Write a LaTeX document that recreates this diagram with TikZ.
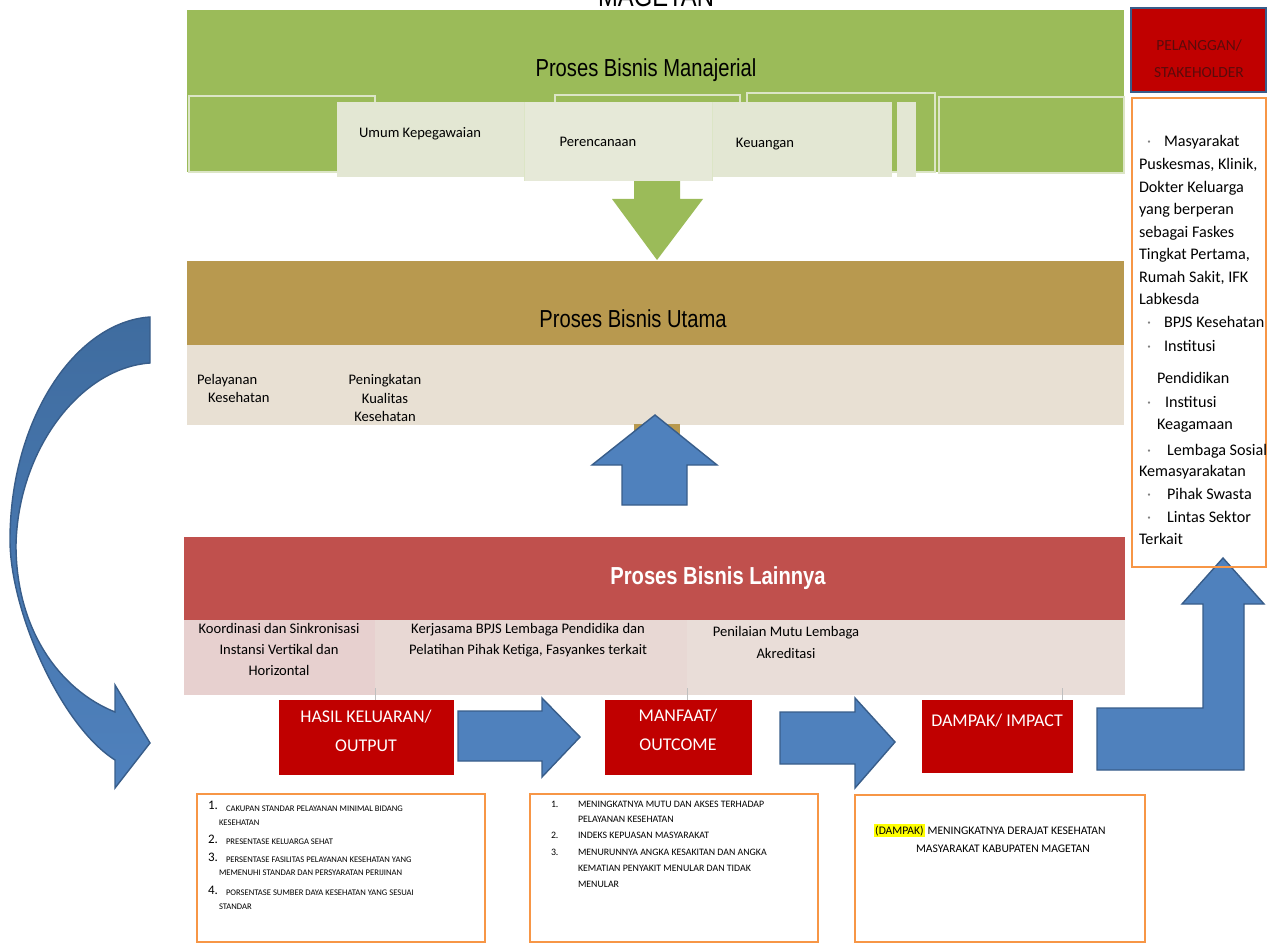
\documentclass[tikz,border=0pt]{standalone}
\usepackage{fontspec}
\setmainfont{Carlito}
\newfontfamily\narrowsf[FakeStretch=0.82]{Liberation Sans}
\definecolor{mgreen}{HTML}{9BBB59}
\definecolor{mgreenedge}{HTML}{DCE5C6}
\definecolor{mgreenlight}{HTML}{E3E7D3}
\definecolor{mgreenlight2}{HTML}{E6E9D8}
\definecolor{ubrown}{HTML}{B8994F}
\definecolor{ubeige}{HTML}{E8E0D3}
\definecolor{lred}{HTML}{C0504D}
\definecolor{lpinkA}{HTML}{E7D0CF}
\definecolor{lpinkB}{HTML}{E8D8D4}
\definecolor{lpinkC}{HTML}{E9DDD8}
\definecolor{dred}{HTML}{C00000}
\definecolor{ablue}{HTML}{4F81BD}
\definecolor{abluedark}{HTML}{3F6C9F}
\definecolor{ablueedge}{HTML}{385D8A}
\definecolor{obox}{HTML}{F79646}
\definecolor{maroontext}{HTML}{5A0B0B}
\definecolor{hilite}{HTML}{FFFF00}
\begin{document}
\begin{tikzpicture}[x=0.2mm,y=-0.2mm,
  every node/.style={inner sep=0pt, outer sep=0pt},
  heading/.style={font=\narrowsf\fontsize{14}{16}\selectfont},
  smalltxt/.style={font=\fontsize{8.3}{12}\selectfont, align=center},
  tabbox/.style={draw=mgreenedge, line width=0.9pt, fill=mgreen},
  resultbox/.style={fill=dred},
  resultlabel/.style={text=white, font=\fontsize{10.2}{16.5}\selectfont, align=center},
  blockarrow/.style={fill=ablue, draw=ablueedge, line width=0.8pt, line join=miter},
  listbox/.style={draw=obox, line width=0.55mm},
  sh/.style={font=\fontsize{9.2}{11}\selectfont, anchor=mid west},
  shdot/.style={font=\fontsize{9}{11}\selectfont, anchor=mid west, text=gray},
  numA/.style={font=\fontsize{7.4}{8}\selectfont, anchor=mid west},
  itemA/.style={font=\fontsize{4.9}{6}\selectfont, anchor=mid west},
  itemB/.style={font=\fontsize{5.6}{7}\selectfont, anchor=mid west},
  itemC/.style={font=\fontsize{6.6}{8}\selectfont, anchor=mid west}
]
\useasboundingbox (0,0) rectangle (1269,944);

% ---------- heading cut at the top edge
\node[font=\narrowsf\fontsize{16.5}{18}\selectfont, anchor=base] (magetan) at (656,7) {MAGETAN};

% ---------- Proses Bisnis Manajerial
\fill[mgreen] (187,10) rectangle (1124,172);
\node[heading] (manajerial) at (646,70) {Proses Bisnis Manajerial};
\draw[tabbox] (189,96) rectangle (375,172);
\draw[tabbox] (555,95) rectangle (740,172);
\draw[tabbox] (747,93) rectangle (935,172);
\draw[tabbox] (939,97) rectangle (1124,173);
% green arrow down to the main process
\fill[mgreen] (634,178) -- (680,178) -- (680,199) -- (703,199) -- (657,260)
   -- (612,199) -- (634,199) -- cycle;
\fill[mgreenlight] (337,102) rectangle (524,177);
\fill[mgreenlight2] (524,102) rectangle (712,181);
\draw[mgreenedge, line width=0.4pt] (524,102) -- (524,181);
\fill[mgreenlight] (712,102) rectangle (892,177);
\draw[mgreenedge, line width=0.4pt] (712,102) -- (712,181);
\fill[mgreenlight] (897,102) rectangle (916,177);
\node[smalltxt] (umum) at (420,134) {Umum Kepegawaian};
\node[smalltxt] (perencanaan) at (598,142) {Perencanaan};
\node[smalltxt] (keuangan) at (765,144) {Keuangan};

% ---------- Proses Bisnis Utama
\fill[ubrown] (187,261) rectangle (1124,345);
\fill[ubeige] (187,345) rectangle (1124,425);
\node[heading] (utama) at (633,319) {Proses Bisnis Utama};
\node[smalltxt, anchor=mid west] (pel1) at (197,380) {Pelayanan};
\node[smalltxt, anchor=mid west] (pel2) at (208,398) {Kesehatan};
\node[font=\fontsize{8.3}{10.3}\selectfont, align=center] (peningkatan) at (385,398)
  {Peningkatan\\Kualitas\\Kesehatan};
\fill[ubrown] (634,424) rectangle (680,434);
% blue arrow up from the other processes
\draw[blockarrow] (655,415) -- (717,465) -- (687,465) -- (687,505) -- (622,505)
   -- (622,465) -- (592,465) -- cycle;

% ---------- Proses Bisnis Lainnya
\fill[lred] (184,537) rectangle (1125,620);
\fill[lpinkB] (184,620) rectangle (1125,695);
\fill[lpinkA] (184,620) rectangle (375,695);
\fill[lpinkC] (687,620) rectangle (1125,695);
\foreach \xx in {375,687,1062}
  \draw[black!25, line width=0.3pt] (\xx,688) -- (\xx,700);
\node[heading, font=\narrowsf\bfseries\fontsize{14}{16}\selectfont, text=white] (lainnya) at (718,578) {Proses Bisnis Lainnya};
\node[smalltxt, anchor=north] (koordinasi) at (279,623)
  {Koordinasi dan Sinkronisasi\\Instansi Vertikal dan\\Horizontal};
\node[smalltxt, anchor=north] (kerjasama) at (528,623)
  {Kerjasama BPJS Lembaga Pendidika dan\\Pelatihan Pihak Ketiga, Fasyankes terkait};
\node[smalltxt, font=\fontsize{8.3}{13}\selectfont, anchor=north] (penilaian) at (786,626)
  {Penilaian Mutu Lembaga\\Akreditasi};

% ---------- results chain
\fill[resultbox] (279,700) rectangle (454,775);
\node[resultlabel] (output) at (366,731) {HASIL KELUARAN/\\OUTPUT};
\fill[resultbox] (605,700) rectangle (752,775);
\node[resultlabel] (outcome) at (678,730) {MANFAAT/\\OUTCOME};
\fill[resultbox] (922,700) rectangle (1073,773);
\node[resultlabel] (impact) at (997,721) {DAMPAK/ IMPACT};

\draw[blockarrow] (458,711) -- (542,711) -- (542,698) -- (580,737) -- (542,777)
   -- (542,761) -- (458,761) -- cycle;
\draw[blockarrow] (780,712) -- (855,712) -- (855,698) -- (895,742) -- (855,788)
   -- (855,764) -- (780,764) -- cycle;
\draw[blockarrow] (1097,708) -- (1203,708) -- (1203,604) -- (1182,604) -- (1223,558)
   -- (1264,604) -- (1244,604) -- (1244,770) -- (1097,770) -- cycle;

% ---------- curved feedback arrow on the left
\path[top color=abluedark, bottom color=ablue, draw=ablueedge, line width=0.8pt]
  (150,317) .. controls (75,322) and (10,420) .. (10,540)
  .. controls (10,610) and (60,725) .. (115,760)
  -- (115,788) -- (150,743) -- (115,685) -- (115,712)
  .. controls (60,690) and (16,630) .. (16,545)
  .. controls (18,450) and (80,368) .. (150,363) -- cycle;

% ---------- customers / stakeholders
\draw[fill=dred, draw=ablueedge, line width=0.9pt] (1131,8) rectangle (1266,92);
\node[font=\fontsize{8.8}{15.5}\selectfont, text=maroontext, align=center] (pelanggan) at (1199,59)
  {PELANGGAN/\\STAKEHOLDER};
\draw[listbox] (1132,98) rectangle (1266,567);
\node[shdot] (d1) at (1147,142) {·};
\node[sh] (s1) at (1164,142) {Masyarakat};
\node[sh] (s2) at (1139,165) {Puskesmas, Klinik,};
\node[sh] (s3) at (1139,188) {Dokter Keluarga};
\node[sh] (s4) at (1139,210) {yang berperan};
\node[sh] (s5) at (1139,233) {sebagai Faskes};
\node[sh] (s6) at (1139,255) {Tingkat Pertama,};
\node[sh] (s7) at (1139,278) {Rumah Sakit, IFK};
\node[sh] (s8) at (1139,300) {Labkesda};
\node[shdot] (d2) at (1147,323) {·};
\node[sh] (s9) at (1164,323) {BPJS Kesehatan};
\node[shdot] (d3) at (1147,347) {·};
\node[sh] (s10) at (1164,347) {Institusi};
\node[sh] (s11) at (1157,379) {Pendidikan};
\node[shdot] (d4) at (1147,403) {·};
\node[sh] (s12) at (1165,403) {Institusi};
\node[sh] (s13) at (1157,425) {Keagamaan};
\node[shdot] (d5) at (1147,451) {·};
\node[sh] (s14) at (1167,451) {Lembaga Sosial};
\node[sh] (s15) at (1139,472) {Kemasyarakatan};
\node[shdot] (d6) at (1147,495) {·};
\node[sh] (s16) at (1167,495) {Pihak Swasta};
\node[shdot] (d7) at (1147,518) {·};
\node[sh] (s17) at (1167,518) {Lintas Sektor};
\node[sh] (s18) at (1139,540) {Terkait};

% ---------- indicator lists
\draw[listbox] (197,794) rectangle (485,942);
\node[numA] (a1n) at (208,805) {1.};
\node[itemA] (a1) at (226,807) {CAKUPAN STANDAR PELAYANAN MINIMAL BIDANG};
\node[itemA] (a1b) at (219,821) {KESEHATAN};
\node[numA] (a2n) at (208,839) {2.};
\node[itemA] (a2) at (226,840) {PRESENTASE KELUARGA SEHAT};
\node[numA] (a3n) at (208,857) {3.};
\node[itemA] (a3) at (226,858) {PERSENTASE FASILITAS PELAYANAN KESEHATAN YANG};
\node[itemA] (a3b) at (219,871) {MEMENUHI STANDAR DAN PERSYARATAN PERIJINAN};
\node[numA] (a4n) at (208,890) {4.};
\node[itemA] (a4) at (226,891) {PORSENTASE SUMBER DAYA KESEHATAN YANG SESUAI};
\node[itemA] (a4b) at (219,905) {STANDAR};

\draw[listbox] (530,794) rectangle (818,942);
\node[itemB] (b1n) at (551,803) {1.};
\node[itemB] (b1) at (578,803) {MENINGKATNYA MUTU DAN AKSES TERHADAP};
\node[itemB] (b1b) at (578,818) {PELAYANAN KESEHATAN};
\node[itemB] (b2n) at (551,834) {2.};
\node[itemB] (b2) at (578,834) {INDEKS KEPUASAN MASYARAKAT};
\node[itemB] (b3n) at (551,851) {3.};
\node[itemB] (b3) at (578,851) {MENURUNNYA ANGKA KESAKITAN DAN ANGKA};
\node[itemB] (b3b) at (578,867) {KEMATIAN PENYAKIT MENULAR DAN TIDAK};
\node[itemB] (b3c) at (578,883) {MENULAR};

\draw[listbox] (855,795) rectangle (1145,942);
\node[itemC] (c1) at (874,830) {{\setlength{\fboxsep}{0.7pt}\colorbox{hilite}{(DAMPAK)}} MENINGKATNYA DERAJAT KESEHATAN};
\node[itemC] (c2) at (916,848) {MASYARAKAT KABUPATEN MAGETAN};
\end{tikzpicture}
\end{document}
